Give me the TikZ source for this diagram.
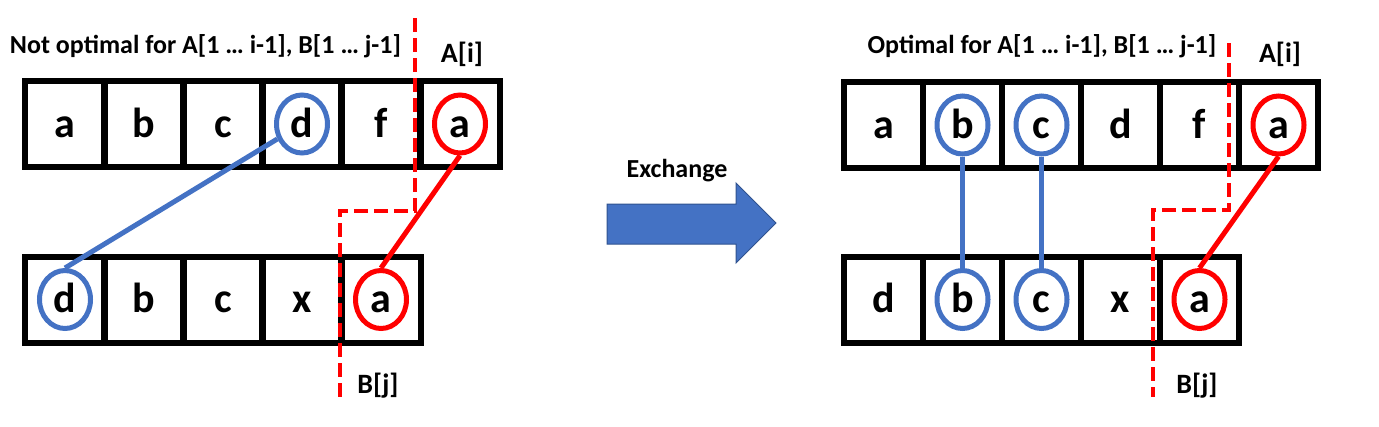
\documentclass[tikz,border=0pt]{standalone}
\usepackage{fontspec}
\setmainfont{Carlito}
\usetikzlibrary{shapes.geometric}
\definecolor{xblue}{HTML}{4472C4}
\definecolor{xred}{HTML}{FF0000}
\definecolor{xedge}{HTML}{2F528F}
\tikzset{
  cell/.style={draw, line width=6pt, minimum width=79pt, minimum height=86pt,
    inner sep=0pt, outer sep=0pt, text height=26pt, text depth=0pt,
    font=\bfseries\fontsize{42}{46}\selectfont},
  ring/.style={draw=#1, line width=5pt, ellipse, minimum width=51pt,
    minimum height=58pt, inner sep=0pt},
  link/.style={draw=#1, line width=5pt},
  cut/.style={draw=xred, line width=3.5pt, dash pattern=on 14pt off 6pt},
  heading/.style={anchor=base, inner sep=0pt, font=\bfseries\fontsize{26}{28}\selectfont},
}
\begin{document}
\begin{tikzpicture}[x=1pt, y=-1pt]
\useasboundingbox (0,0) rectangle (1379,426);
% before
\matrix (lt) [column sep=-6pt, nodes={cell}] at (262.5,124) {
  \node (lt1) {a}; & \node (lt2) {b}; & \node (lt3) {c};
 &\node (lt4) {d}; & \node (lt5) {f}; & \node (lt6) {a};\\
};
\matrix (lb) [column sep=-6pt, nodes={cell}] at (223,299.5) {
  \node (lb1) {d}; & \node (lb2) {b}; & \node (lb3) {c};
 &\node (lb4) {x}; & \node (lb5) {a};\\
};
\node[ring=xblue] (lpd) at (lt4) {};
\node[ring=xred] (lpa) at (lt6) {};
\node[ring=xblue] (lqd) at (lb1) {};
\node[ring=xred] (lqa) at (lb5) {};
\draw[link=xblue] (lpd) -- (lqd.north);
\draw[link=xred] (lpa.south) -- (lqa.north);
\coordinate (lc1) at (415,18);
\coordinate (lc2) at (415,211);
\coordinate (lc3) at (340,211);
\coordinate (lc4) at (340,397);
\draw[cut] (lc1) -- (lc2) -- (lc3) -- (lc4);
\node[heading] (lhead) at (205.5,53) {Not optimal for A[1 … i-1], B[1 … j-1]};
\node[heading, font=\bfseries\fontsize{28}{30}\selectfont] (lai) at (462,62) {A[i]};
\node[heading, font=\bfseries\fontsize{28}{30}\selectfont] (lbj) at (378,393) {B[j]};
% exchange
\filldraw[fill=xblue, draw=xedge, line width=1pt]
  (607,204) -- (736,204) -- (736,183) -- (776,223) -- (736,263) -- (736,244) -- (607,244) -- cycle;
\node[heading] (swap) at (677,177) {Exchange};
% after
\matrix (rt) [column sep=-6pt, nodes={cell}] at (1081,125) {
  \node (rt1) {a}; & \node (rt2) {b}; & \node (rt3) {c};
 &\node (rt4) {d}; & \node (rt5) {f}; & \node (rt6) {a};\\
};
\matrix (rb) [column sep=-6pt, nodes={cell}] at (1041.5,299.5) {
  \node (rb1) {d}; & \node (rb2) {b}; & \node (rb3) {c};
 &\node (rb4) {x}; & \node (rb5) {a};\\
};
\node[ring=xblue] (rpb) at (rt2) {};
\node[ring=xblue] (rpc) at (rt3) {};
\node[ring=xred] (rpa) at (rt6) {};
\node[ring=xblue] (rqb) at (rb2) {};
\node[ring=xblue] (rqc) at (rb3) {};
\node[ring=xred] (rqa) at (rb5) {};
\draw[link=xblue] (rpb.south) -- (rqb.north);
\draw[link=xblue] (rpc.south) -- (rqc.north);
\draw[link=xred] (rpa.south) -- (rqa.north);
\coordinate (rc1) at (1229,43);
\coordinate (rc2) at (1229,210);
\coordinate (rc3) at (1153,210);
\coordinate (rc4) at (1153,397);
\draw[cut] (rc1) -- (rc2) -- (rc3) -- (rc4);
\node[heading] (rhead) at (1042,53) {Optimal for A[1 … i-1], B[1 … j-1]};
\node[heading, font=\bfseries\fontsize{28}{30}\selectfont] (rai) at (1280,62) {A[i]};
\node[heading, font=\bfseries\fontsize{28}{30}\selectfont] (rbj) at (1197,393) {B[j]};
\end{tikzpicture}
\end{document}
